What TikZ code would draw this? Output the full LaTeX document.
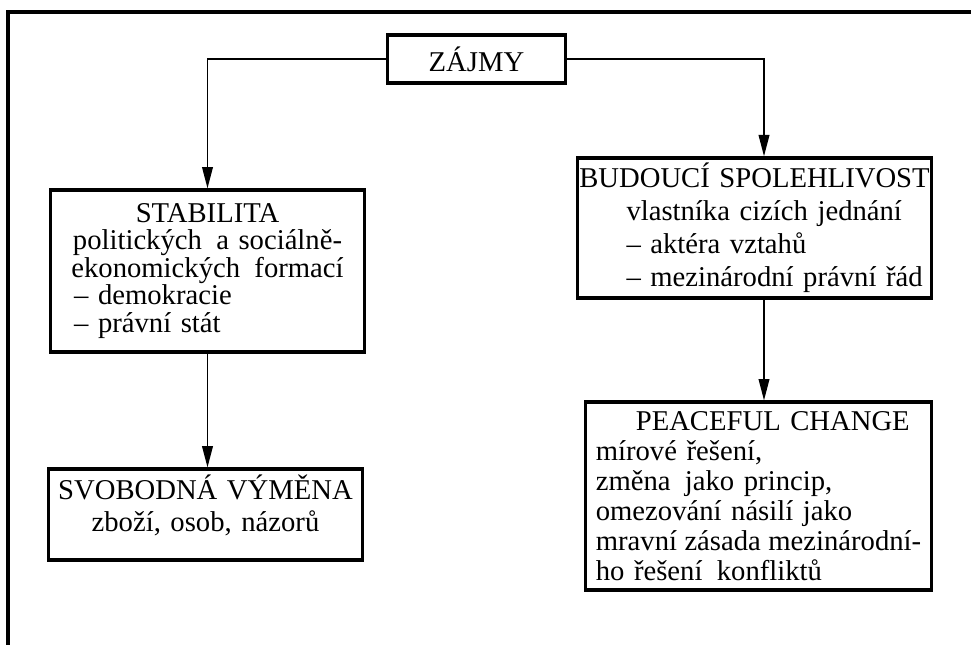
\documentclass[tikz,border=0pt]{standalone}
\usepackage{fontspec}
\setmainfont{Liberation Serif}
\usetikzlibrary{arrows.meta}

\begin{document}
\begin{tikzpicture}[
    x=0.75pt,y=-0.75pt,
    box/.style={draw,rectangle,line width=2.4pt,inner ysep=4pt,font=\fontsize{21.5}{20.6}\selectfont},
    topbox/.style={box,minimum width=133pt,minimum height=36pt},
    stabbox/.style={box,text width=224pt,inner xsep=6pt,minimum height=121.5pt,align=left},
    svobbox/.style={box,text width=224pt,inner xsep=6pt,minimum height=68pt,align=center,font=\fontsize{21.5}{24.7}\selectfont},
    budbox/.style={box,text width=262pt,inner xsep=2pt,minimum height=103.5pt,align=left,font=\fontsize{21.5}{24.7}\selectfont},
    peacebox/.style={box,text width=244pt,inner xsep=8pt,minimum height=141pt,align=left,font=\fontsize{21.5}{22.4}\selectfont},
    link/.style={draw,line width=1.2pt},
    arr/.style={link,-{Triangle[length=16pt,width=8pt]}},
    frame/.style={draw,line width=2.6pt}
  ]
  \useasboundingbox (0,0) rectangle (971,645);

  %frame
  \draw[frame] (971,12) -- (6,12);
  \draw[frame] (8,11) -- (8,645);

  %boxes
  \node[topbox] (zajmy) at (476.5,59) {ZÁJMY};
  \node[stabbox] (stab) at (207.5,271) {\hfill STABILITA\hfill\null\\
    \hfill politických\hspace{0.5em}a sociálně-\hfill\null\\
    \hfill ekonomických\hspace{0.5em}formací\hfill\null\\
    \hspace*{12pt}– demokracie\\
    \hspace*{12pt}– právní stát};
  \node[svobbox] (svob) at (205.5,514.5) {SVOBODNÁ VÝMĚNA\\zboží, osob, názorů\rule[-17pt]{0pt}{1pt}};
  \node[budbox] (bud) at (754.5,228) {\makebox[\linewidth]{BUDOUCÍ SPOLEHLIVOST}\\
    \hspace*{35pt}vlastníka cizích jednání\\
    \hspace*{35pt}– aktéra vztahů\\
    \hspace*{35pt}– mezinárodní právní řád};
  \node[peacebox] (peace) at (758.5,496) {\hspace*{30pt}PEACEFUL CHANGE\\
    mírové řešení,\\
    změna\hspace{0.5em}jako princip,\\
    omezování násilí jako\\
    mravní\hfill zásada\hfill mezinárodní-\\
    ho řešení\hspace{0.5em}konfliktů};

  %links
  \coordinate (rt) at (764,59);
  \draw[arr] (zajmy.west) -| (stab.north);
  \draw[arr] (zajmy.east) -- (rt) -- (rt |- bud.north);
  \draw[arr] (stab.south) -- (stab.south |- svob.north);
  \draw[arr] (rt |- bud.south) -- (rt |- peace.north);
\end{tikzpicture}
\end{document}
